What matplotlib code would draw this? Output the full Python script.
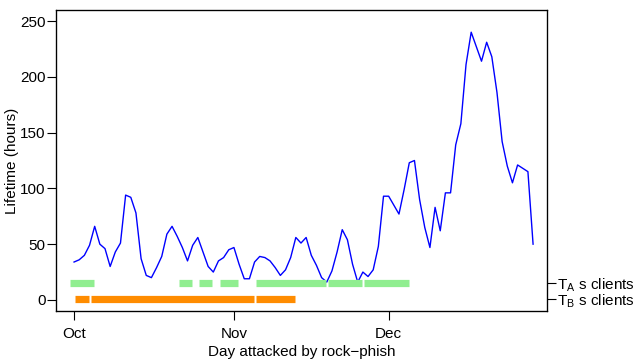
import numpy as np
import matplotlib
matplotlib.use("Agg")
import matplotlib.pyplot as plt

plt.rcParams['font.family'] = ['Liberation Sans', 'DejaVu Sans']

# day 0 = Oct 1, one value per day (lifetime in hours)
lifetime = [34, 36, 40, 49, 66, 50, 46, 30, 43, 51,
            94, 92, 78, 37, 22, 20, 29, 39, 59, 66,
            57, 47, 35, 49, 56, 43, 30, 25, 35, 38,
            45, 47, 32, 19, 19, 34, 39, 38, 35, 29,
            22, 27, 38, 56, 51, 56, 40, 31, 20, 16,
            26, 43, 63, 54, 32, 16, 25, 21, 27, 48,
            93, 93, 85, 77, 99, 123, 125, 90, 65, 47,
            83, 62, 96, 96, 139, 158, 211, 240, 227, 214,
            231, 218, 186, 142, 120, 105, 121, 118, 115, 50]
days = np.arange(len(lifetime))

# periods (start day, end day) for the two client groups
ta_start = [-0.8, 20.4, 24.2, 28.3, 35.3, 49.2, 56.2]
ta_end = [3.9, 22.9, 26.7, 31.8, 48.8, 55.8, 64.9]
tb_start = [0.2, 3.3, 35.3]
tb_end = [2.9, 34.9, 42.8]

month_days = [0, 31, 61]
month_names = ["Oct", "Nov", "Dec"]

fig = plt.figure(figsize=(6.41, 3.6), dpi=100)
ax = fig.add_axes([56/641, 1 - 311/360, (547 - 56)/641, (311 - 10)/360])

ax.plot(days, lifetime, color="#0000FF", lw=1.0)
ax.hlines([15.5] * len(ta_start), ta_start, ta_end, colors="#90EE90", lw=5.2)
ax.hlines([1] * len(tb_start), tb_start, tb_end, colors="#FF8C00", lw=5.2)

ax.set_xlim(-3.5, 91.7)
ax.set_ylim(-9.9, 259.9)

ax.set_xticks(month_days)
ax.set_xticklabels(month_names)
ax.set_yticks(range(0, 251, 50))
ax.tick_params(axis="both", labelsize=11, length=6.5, width=0.8, direction="out")
ax.tick_params(axis="y", pad=1)
ax.tick_params(axis="x", pad=5)

for s in ax.spines.values():
    s.set_linewidth(0.9)
    s.set_color("black")

ax.set_xlabel("Day attacked by rock\u2212phish", fontsize=11)
ax.set_ylabel("Lifetime (hours)", fontsize=11)
ax.xaxis.set_label_coords(0.5, -0.137, transform=ax.transAxes)
ax.yaxis.set_label_coords(-0.089, 0.5, transform=ax.transAxes)
ax.xaxis.label.set_va("center")
ax.yaxis.label.set_va("center")

# right-hand labels for the two bars
ax2 = ax.twinx()
ax2.set_ylim(ax.get_ylim())
ax2.set_yticks([15.5, 1])
ax2.set_yticklabels([r"T$_\mathregular{A}$ s clients", r"T$_\mathregular{B}$ s clients"])
ax2.tick_params(axis="y", labelsize=11, length=6.5, width=0.8, pad=1)

fig.savefig("out.png", dpi=100)
